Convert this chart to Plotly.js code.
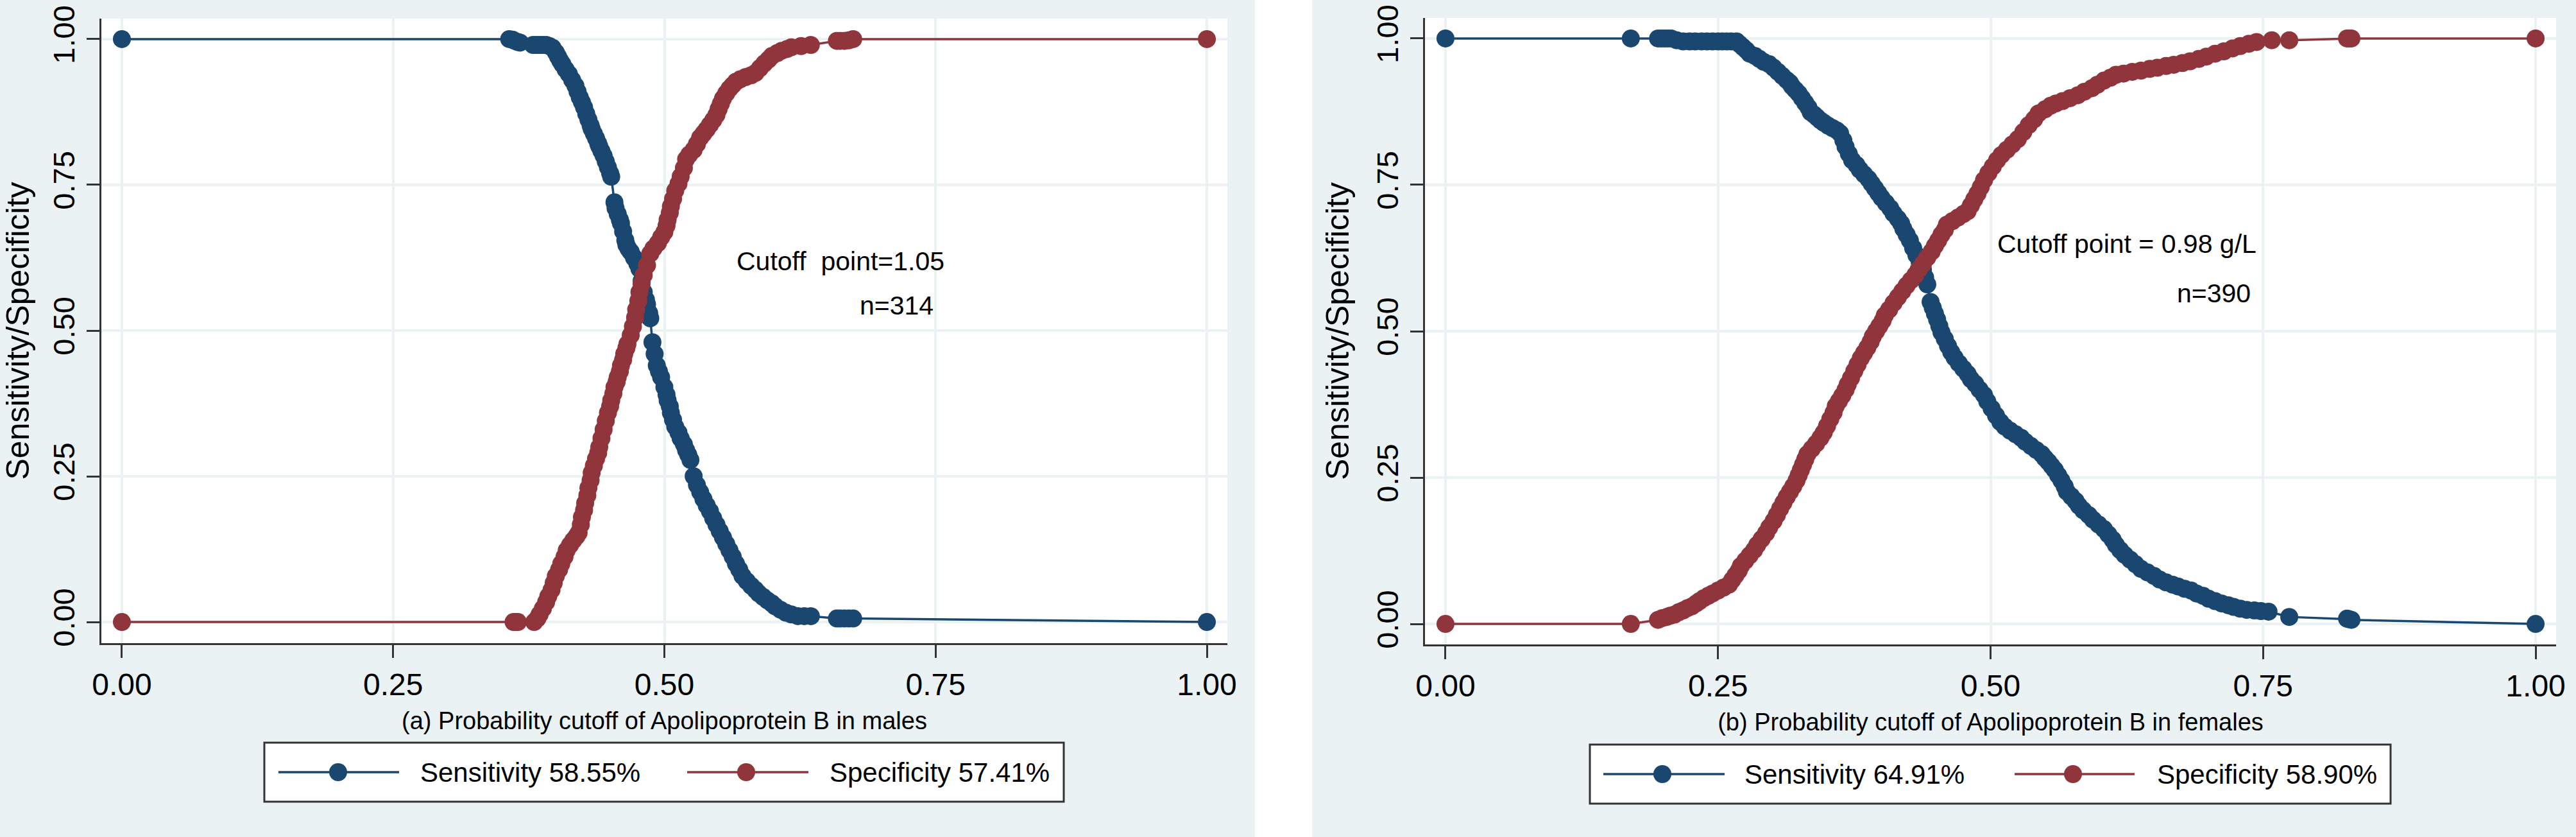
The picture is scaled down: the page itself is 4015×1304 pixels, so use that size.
<!DOCTYPE html>
<html>
<head>
<meta charset="utf-8">
<script src="https://cdn.plot.ly/plotly-3.0.1.min.js"></script>
<style>html,body{margin:0;padding:0;background:#ffffff;}#chart{width:4015px;height:1304px;}</style>
</head>
<body>
<div id="chart"></div>
<script>
// ---------------- DATA ----------------
var tickVals = [0, 0.25, 0.5, 0.75, 1];
var tickText = ["0.00", "0.25", "0.50", "0.75", "1.00"];

// (a) males
var maleSensX = [0, 0.357, 0.360, 0.362, 0.365, 0.367, 0.379, 0.382, 0.385, 0.388, 0.391, 0.394, 0.397, 0.400, 0.402, 0.404, 0.406, 0.409, 0.412, 0.415, 0.418, 0.420, 0.422, 0.424, 0.426, 0.428, 0.430, 0.432, 0.433, 0.435, 0.437, 0.439, 0.440, 0.442, 0.444, 0.446, 0.448, 0.450, 0.451, 0.454, 0.455, 0.457, 0.459, 0.460, 0.462, 0.464, 0.465, 0.467, 0.469, 0.472, 0.475, 0.477, 0.479, 0.481, 0.483, 0.484, 0.486, 0.487, 0.489, 0.491, 0.493, 0.495, 0.497, 0.500, 0.502, 0.503, 0.505, 0.506, 0.508, 0.510, 0.513, 0.515, 0.518, 0.520, 0.522, 0.524, 0.527, 0.530, 0.533, 0.536, 0.539, 0.542, 0.545, 0.548, 0.551, 0.554, 0.557, 0.560, 0.563, 0.566, 0.569, 0.572, 0.576, 0.580, 0.584, 0.587, 0.591, 0.595, 0.599, 0.602, 0.607, 0.612, 0.617, 0.623, 0.629, 0.635, 0.659, 0.662, 0.666, 0.670, 0.674, 1];
var maleSensY = [1, 1, 0.999, 0.997, 0.995, 0.994, 0.99, 0.99, 0.99, 0.99, 0.99, 0.988, 0.985, 0.977, 0.97, 0.963, 0.957, 0.948, 0.94, 0.93, 0.92, 0.91, 0.90, 0.892, 0.883, 0.872, 0.862, 0.852, 0.846, 0.838, 0.83, 0.821, 0.816, 0.808, 0.80, 0.79, 0.78, 0.77, 0.764, 0.72, 0.71, 0.70, 0.69, 0.684, 0.67, 0.655, 0.647, 0.64, 0.635, 0.625, 0.615, 0.606, 0.585, 0.566, 0.553, 0.545, 0.53, 0.521, 0.48, 0.46, 0.44, 0.43, 0.42, 0.403, 0.39, 0.38, 0.37, 0.359, 0.347, 0.335, 0.325, 0.315, 0.305, 0.295, 0.287, 0.278, 0.25, 0.235, 0.223, 0.211, 0.2, 0.19, 0.178, 0.167, 0.156, 0.145, 0.134, 0.123, 0.112, 0.10, 0.09, 0.079, 0.07, 0.062, 0.055, 0.049, 0.043, 0.037, 0.032, 0.027, 0.021, 0.016, 0.013, 0.01, 0.01, 0.01, 0.006, 0.006, 0.006, 0.006, 0.006, 0];
var maleSpecX = [0, 0.361, 0.363, 0.365, 0.380, 0.383, 0.385, 0.388, 0.391, 0.393, 0.396, 0.398, 0.400, 0.403, 0.405, 0.408, 0.410, 0.413, 0.416, 0.419, 0.421, 0.423, 0.424, 0.426, 0.427, 0.429, 0.430, 0.432, 0.433, 0.435, 0.437, 0.439, 0.440, 0.442, 0.444, 0.446, 0.448, 0.450, 0.451, 0.453, 0.454, 0.456, 0.457, 0.459, 0.460, 0.462, 0.463, 0.465, 0.466, 0.469, 0.471, 0.473, 0.474, 0.476, 0.477, 0.479, 0.481, 0.484, 0.487, 0.490, 0.494, 0.497, 0.500, 0.502, 0.503, 0.505, 0.506, 0.508, 0.510, 0.513, 0.515, 0.518, 0.520, 0.523, 0.527, 0.530, 0.533, 0.536, 0.539, 0.542, 0.545, 0.548, 0.550, 0.552, 0.554, 0.557, 0.560, 0.563, 0.566, 0.570, 0.575, 0.580, 0.584, 0.588, 0.592, 0.596, 0.599, 0.604, 0.608, 0.613, 0.617, 0.626, 0.635, 0.659, 0.662, 0.666, 0.670, 0.674, 1];
var maleSpecY = [0, 0, 0, 0, 0, 0.006, 0.013, 0.023, 0.034, 0.044, 0.055, 0.067, 0.079, 0.09, 0.10, 0.112, 0.123, 0.132, 0.14, 0.147, 0.153, 0.167, 0.18, 0.192, 0.204, 0.217, 0.23, 0.243, 0.256, 0.268, 0.28, 0.29, 0.30, 0.315, 0.33, 0.345, 0.359, 0.37, 0.38, 0.392, 0.403, 0.412, 0.42, 0.43, 0.44, 0.45, 0.46, 0.47, 0.477, 0.492, 0.507, 0.522, 0.536, 0.551, 0.566, 0.58, 0.595, 0.612, 0.632, 0.641, 0.65, 0.66, 0.669, 0.68, 0.69, 0.702, 0.713, 0.726, 0.74, 0.752, 0.764, 0.779, 0.794, 0.802, 0.81, 0.82, 0.831, 0.838, 0.845, 0.853, 0.861, 0.87, 0.88, 0.889, 0.898, 0.907, 0.915, 0.921, 0.927, 0.931, 0.935, 0.938, 0.942, 0.95, 0.958, 0.965, 0.971, 0.976, 0.98, 0.983, 0.986, 0.988, 0.99, 0.997, 0.997, 0.997, 0.998, 1, 1];

// (b) females
var femSensX = [0, 0.17, 0.195, 0.198, 0.201, 0.204, 0.207, 0.212, 0.218, 0.224, 0.229, 0.235, 0.24, 0.245, 0.25, 0.254, 0.258, 0.262, 0.267, 0.270, 0.273, 0.276, 0.279, 0.284, 0.288, 0.292, 0.297, 0.301, 0.305, 0.309, 0.313, 0.316, 0.318, 0.321, 0.324, 0.327, 0.330, 0.333, 0.335, 0.338, 0.341, 0.344, 0.347, 0.351, 0.355, 0.359, 0.362, 0.365, 0.367, 0.370, 0.373, 0.377, 0.380, 0.384, 0.388, 0.391, 0.394, 0.397, 0.400, 0.404, 0.408, 0.411, 0.415, 0.418, 0.420, 0.423, 0.426, 0.429, 0.432, 0.435, 0.438, 0.440, 0.442, 0.445, 0.447, 0.449, 0.451, 0.453, 0.455, 0.458, 0.461, 0.464, 0.467, 0.471, 0.475, 0.479, 0.482, 0.486, 0.490, 0.494, 0.497, 0.501, 0.505, 0.509, 0.513, 0.518, 0.523, 0.528, 0.532, 0.537, 0.542, 0.547, 0.550, 0.553, 0.556, 0.559, 0.562, 0.565, 0.568, 0.570, 0.574, 0.578, 0.581, 0.585, 0.590, 0.594, 0.599, 0.604, 0.608, 0.612, 0.615, 0.619, 0.623, 0.628, 0.633, 0.638, 0.644, 0.650, 0.655, 0.661, 0.667, 0.672, 0.678, 0.684, 0.689, 0.695, 0.700, 0.706, 0.712, 0.718, 0.723, 0.729, 0.735, 0.742, 0.748, 0.755, 0.774, 0.827, 0.829, 0.831, 1];
var femSensY = [1, 1, 1, 1, 1, 1, 1, 0.997, 0.995, 0.995, 0.995, 0.995, 0.995, 0.995, 0.995, 0.995, 0.995, 0.995, 0.995, 0.99, 0.985, 0.98, 0.974, 0.97, 0.965, 0.96, 0.956, 0.95, 0.943, 0.936, 0.929, 0.924, 0.918, 0.912, 0.906, 0.898, 0.89, 0.882, 0.874, 0.87, 0.865, 0.86, 0.856, 0.851, 0.847, 0.843, 0.838, 0.826, 0.815, 0.803, 0.792, 0.784, 0.776, 0.768, 0.76, 0.752, 0.744, 0.736, 0.728, 0.719, 0.71, 0.701, 0.692, 0.684, 0.675, 0.665, 0.655, 0.642, 0.63, 0.618, 0.605, 0.592, 0.58, 0.55, 0.54, 0.53, 0.52, 0.509, 0.498, 0.487, 0.475, 0.464, 0.455, 0.445, 0.436, 0.427, 0.418, 0.41, 0.40, 0.391, 0.38, 0.368, 0.356, 0.345, 0.337, 0.33, 0.324, 0.318, 0.311, 0.304, 0.297, 0.29, 0.283, 0.277, 0.27, 0.263, 0.254, 0.245, 0.235, 0.226, 0.218, 0.21, 0.202, 0.194, 0.186, 0.178, 0.17, 0.162, 0.153, 0.144, 0.135, 0.126, 0.118, 0.11, 0.102, 0.094, 0.088, 0.082, 0.076, 0.071, 0.067, 0.064, 0.06, 0.057, 0.052, 0.048, 0.043, 0.039, 0.035, 0.032, 0.029, 0.026, 0.024, 0.023, 0.022, 0.021, 0.012, 0.009, 0.008, 0.007, 0];
var femSpecX = [0, 0.17, 0.195, 0.199, 0.203, 0.206, 0.21, 0.214, 0.218, 0.222, 0.226, 0.230, 0.233, 0.237, 0.241, 0.245, 0.25, 0.255, 0.26, 0.263, 0.266, 0.269, 0.271, 0.275, 0.279, 0.283, 0.286, 0.290, 0.294, 0.297, 0.301, 0.304, 0.307, 0.310, 0.313, 0.316, 0.319, 0.322, 0.324, 0.326, 0.328, 0.330, 0.332, 0.336, 0.34, 0.344, 0.347, 0.350, 0.353, 0.356, 0.358, 0.361, 0.364, 0.367, 0.369, 0.372, 0.375, 0.378, 0.381, 0.384, 0.387, 0.390, 0.392, 0.395, 0.398, 0.401, 0.403, 0.407, 0.411, 0.415, 0.419, 0.423, 0.427, 0.431, 0.434, 0.438, 0.442, 0.446, 0.449, 0.452, 0.455, 0.458, 0.46, 0.465, 0.47, 0.475, 0.479, 0.482, 0.485, 0.488, 0.491, 0.494, 0.498, 0.502, 0.506, 0.510, 0.515, 0.520, 0.525, 0.530, 0.535, 0.540, 0.544, 0.550, 0.555, 0.560, 0.566, 0.573, 0.58, 0.586, 0.593, 0.598, 0.604, 0.610, 0.615, 0.622, 0.63, 0.638, 0.646, 0.653, 0.661, 0.668, 0.676, 0.683, 0.691, 0.698, 0.706, 0.714, 0.722, 0.729, 0.737, 0.744, 0.758, 0.774, 0.827, 0.829, 0.831, 1];
var femSpecY = [0, 0, 0.007, 0.01, 0.012, 0.014, 0.016, 0.02, 0.023, 0.027, 0.03, 0.035, 0.039, 0.044, 0.048, 0.052, 0.057, 0.062, 0.067, 0.075, 0.083, 0.091, 0.099, 0.108, 0.117, 0.126, 0.135, 0.145, 0.155, 0.165, 0.176, 0.186, 0.197, 0.207, 0.217, 0.226, 0.235, 0.245, 0.254, 0.263, 0.272, 0.281, 0.29, 0.299, 0.308, 0.318, 0.327, 0.338, 0.35, 0.361, 0.372, 0.381, 0.39, 0.40, 0.409, 0.42, 0.432, 0.443, 0.454, 0.463, 0.472, 0.482, 0.491, 0.50, 0.509, 0.518, 0.527, 0.537, 0.548, 0.558, 0.568, 0.578, 0.587, 0.596, 0.605, 0.615, 0.626, 0.636, 0.646, 0.655, 0.665, 0.673, 0.682, 0.688, 0.694, 0.70, 0.705, 0.715, 0.725, 0.735, 0.746, 0.758, 0.77, 0.781, 0.792, 0.801, 0.81, 0.819, 0.828, 0.84, 0.852, 0.862, 0.872, 0.879, 0.885, 0.889, 0.893, 0.898, 0.903, 0.909, 0.915, 0.921, 0.928, 0.933, 0.938, 0.94, 0.943, 0.945, 0.948, 0.95, 0.953, 0.955, 0.958, 0.961, 0.965, 0.969, 0.974, 0.978, 0.983, 0.987, 0.991, 0.994, 0.997, 0.997, 1, 1, 1, 1];

var xTitles = ["(a) Probability cutoff of Apolipoprotein B in males", "(b) Probability cutoff of Apolipoprotein B in females"];
var yTitle = "Sensitivity/Specificity";
var legendLabels = [["Sensitivity 58.55%", "Specificity 57.41%"], ["Sensitivity 64.91%", "Specificity 58.90%"]];
var noteLines = [["Cutoff\u00a0 point=1.05", "n=314"], ["Cutoff point = 0.98 g/L", "n=390"]];

// ---------------- STYLE ----------------
var W = 4015, H = 1304;
var NAVY = "#1a476f", MAROON = "#90353b", BG = "#eaf2f3", AX = "#333333";
var FONT = "Liberation Sans, Arial, Helvetica, sans-serif";
function px(x) { return x / W; }
function py(y) { return 1 - y / H; }

// plot-area boxes in pixels [left, right, top, bottom]
var boxes = [[158, 1913, 29, 1002], [2221, 3984, 28, 1004]];
var xRanges = [[-0.0189, 1.0189], [-0.0188, 1.0188]];
var yRanges = [[-0.0363, 1.0352], [-0.035, 1.035]];
// note positions (data coords) [x, y] per line
var notePos = [[[0.5653, 0.619], [0.679, 0.543]], [[0.505, 0.649], [0.670, 0.565]]];
// legend geometry in pixels
var legBox = [[412, 1658, 1157, 1249], [2478, 3726, 1160, 1252]];
var legKeys = [[[434, 622, 527, 653], [1071, 1260, 1163, 1291]], [[2499, 2688, 2591, 2717], [3140, 3327, 3231, 3360]]];
var legY = [1203, 1206];

function lineTrace(x, y, color, ax) {
  return {
    x: x, y: y, type: "scatter", mode: "lines+markers",
    xaxis: ax[0], yaxis: ax[1],
    line: { color: color, width: 3.5 },
    marker: { color: color, size: 28, line: { width: 0 } },
    hoverinfo: "skip", showlegend: false
  };
}

var data = [
  lineTrace(maleSensX, maleSensY, NAVY, ["x", "y"]),
  lineTrace(maleSpecX, maleSpecY, MAROON, ["x", "y"]),
  lineTrace(femSensX, femSensY, NAVY, ["x2", "y2"]),
  lineTrace(femSpecX, femSpecY, MAROON, ["x2", "y2"])
];

function xAxis(i) {
  var b = boxes[i];
  return {
    domain: [px(b[0]), px(b[1])], range: xRanges[i], anchor: i === 0 ? "y" : "y2",
    tickvals: tickVals, ticktext: tickText, ticks: "outside", ticklen: 20, tickwidth: 3, tickcolor: AX,
    showline: true, linecolor: AX, linewidth: 3, mirror: false,
    showgrid: true, gridcolor: BG, gridwidth: 4, zeroline: false,
    tickfont: { family: FONT, size: 48, color: "#000" },
    title: { text: xTitles[i], font: { family: FONT, size: 38, color: "#000" }, standoff: 18 },
    automargin: false, fixedrange: true
  };
}
function yAxis(i) {
  var b = boxes[i];
  return {
    domain: [py(b[3]), py(b[2])], range: yRanges[i], anchor: i === 0 ? "x" : "x2",
    tickvals: tickVals, ticktext: tickText, ticks: "outside", ticklen: 20, tickwidth: 3, tickcolor: AX,
    tickangle: -90,
    showline: true, linecolor: AX, linewidth: 3, mirror: false,
    showgrid: true, gridcolor: BG, gridwidth: 4, zeroline: false,
    tickfont: { family: FONT, size: 47, color: "#000" },
    title: { text: yTitle, font: { family: FONT, size: 50, color: "#000" }, standoff: 18 },
    automargin: false, fixedrange: true
  };
}

var shapes = [
  // white gap between the two panels
  { type: "rect", xref: "paper", yref: "paper", x0: px(1956), x1: px(2045), y0: 0, y1: 1,
    fillcolor: "#ffffff", line: { width: 0 }, layer: "below" }
];
var annotations = [];
var colors = [NAVY, MAROON];
for (var p = 0; p < 2; p++) {
  var lb = legBox[p];
  shapes.push({ type: "rect", xref: "paper", yref: "paper", x0: px(lb[0]), x1: px(lb[1]), y0: py(lb[3]), y1: py(lb[2]),
    fillcolor: "#ffffff", line: { color: AX, width: 3 }, layer: "above" });
  for (var k = 0; k < 2; k++) {
    var key = legKeys[p][k];
    shapes.push({ type: "line", xref: "paper", yref: "paper", x0: px(key[0]), x1: px(key[1]), y0: py(legY[p]), y1: py(legY[p]),
      line: { color: colors[k], width: 3.5 }, layer: "above" });
    shapes.push({ type: "circle", xref: "paper", yref: "paper", xsizemode: "pixel", ysizemode: "pixel",
      xanchor: px(key[2]), yanchor: py(legY[p]), x0: -14, x1: 14, y0: -14, y1: 14,
      fillcolor: colors[k], line: { width: 0 }, layer: "above" });
    annotations.push({ xref: "paper", yref: "paper", x: px(key[3]), y: py(legY[p]), xanchor: "left", yanchor: "middle",
      text: legendLabels[p][k], showarrow: false, font: { family: FONT, size: 42, color: "#000" } });
  }
  for (var n = 0; n < 2; n++) {
    annotations.push({ xref: p === 0 ? "x" : "x2", yref: p === 0 ? "y" : "y2",
      x: notePos[p][n][0], y: notePos[p][n][1], xanchor: "left", yanchor: "middle",
      text: noteLines[p][n], showarrow: false, font: { family: FONT, size: 41, color: "#000" } });
  }
}

var layout = {
  width: W, height: H, margin: { l: 0, r: 0, t: 0, b: 0, pad: 0 },
  paper_bgcolor: BG, plot_bgcolor: "#ffffff", showlegend: false,
  font: { family: FONT, color: "#000" },
  xaxis: xAxis(0), yaxis: yAxis(0), xaxis2: xAxis(1), yaxis2: yAxis(1),
  shapes: shapes, annotations: annotations
};

Plotly.newPlot("chart", data, layout, { displayModeBar: false, staticPlot: true });
</script>
</body>
</html>
